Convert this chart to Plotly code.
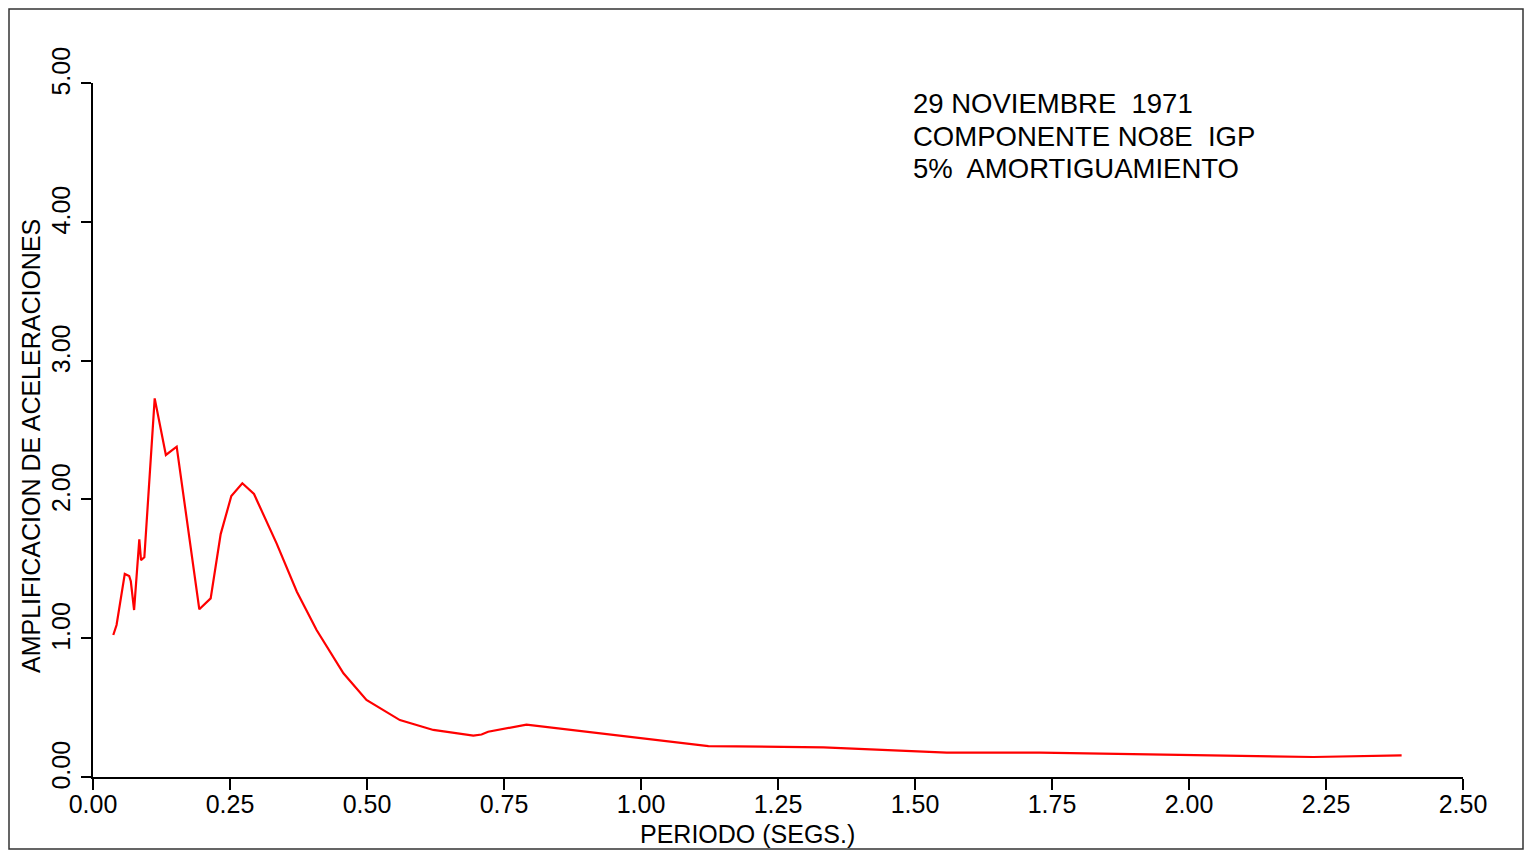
import plotly.graph_objects as go

periodo = [0.037, 0.043, 0.058, 0.066, 0.069, 0.075, 0.0845, 0.0876, 0.0937, 0.1126,
           0.133, 0.1527, 0.194, 0.2147, 0.233, 0.2524, 0.2725, 0.2938, 0.335, 0.372,
           0.408, 0.457, 0.499, 0.560, 0.621, 0.694, 0.709, 0.721, 0.791, 1.123,
           1.333, 1.558, 1.728, 2.227, 2.388]
amplificacion = [1.023, 1.095, 1.463, 1.448, 1.41, 1.203, 1.712, 1.563, 1.583, 2.728,
                 2.32, 2.38, 1.208, 1.287, 1.75, 2.024, 2.116, 2.039, 1.683, 1.335,
                 1.059, 0.747, 0.555, 0.41, 0.339, 0.298, 0.306, 0.326, 0.377, 0.223,
                 0.214, 0.175, 0.175, 0.144, 0.156]

x_ticks = [0.0, 0.25, 0.5, 0.75, 1.0, 1.25, 1.5, 1.75, 2.0, 2.25, 2.5]
y_ticks = [0.0, 1.0, 2.0, 3.0, 4.0, 5.0]

info_lines = ["29 NOVIEMBRE\u00a0 1971", "COMPONENTE NO8E\u00a0 IGP", "5%\u00a0 AMORTIGUAMIENTO"]

FONT = "Liberation Sans, Arial, sans-serif"

fig = go.Figure()
fig.add_trace(go.Scatter(x=periodo, y=amplificacion, mode="lines",
                         line=dict(color="#ff0000", width=2.2), showlegend=False,
                         hoverinfo="skip"))

W, H = 1526, 851
L, R, T, B = 93, 63, 83, 74
pw, ph = W - L - R, H - T - B

def px_x(px):
    return (px - L) / pw

def px_y(py):
    return (H - B - py) / ph

annotations = []
for i, line in enumerate(info_lines):
    annotations.append(dict(text=line, xref="paper", yref="paper",
                            x=px_x(911), y=px_y(104 + 32 * i),
                            xanchor="left", yanchor="middle", align="left",
                            showarrow=False,
                            font=dict(size=27.5, family=FONT, color="black")))
annotations += [
    dict(text="PERIODO (SEGS.)", xref="paper", yref="paper",
         x=px_x(747), y=px_y(834), xanchor="center", yanchor="middle",
         showarrow=False, font=dict(size=25, family=FONT, color="black")),
    dict(text="AMPLIFICACION DE ACELERACIONES", xref="paper", yref="paper",
         x=px_x(31), y=px_y(446), xanchor="center", yanchor="middle",
         textangle=-90, showarrow=False,
         font=dict(size=25, family=FONT, color="black")),
]

fig.update_layout(
    width=W, height=H,
    margin=dict(l=L, r=R, t=T, b=B),
    paper_bgcolor="white", plot_bgcolor="white",
    font=dict(family=FONT, size=25, color="black"),
    xaxis=dict(range=[0, 2.5], tickvals=x_ticks,
               ticktext=[f"{v:.2f}" for v in x_ticks],
               showgrid=False, zeroline=False, showline=True, linecolor="black",
               linewidth=1.5, ticks="outside", ticklen=11, tickwidth=1.5,
               tickcolor="black", ticklabelstandoff=-7,
               tickfont=dict(size=25, family=FONT)),
    yaxis=dict(range=[0, 5], tickvals=y_ticks,
               ticktext=[f"{v:.2f}" for v in y_ticks],
               showgrid=False, zeroline=False, showline=True, linecolor="black",
               linewidth=1.5, ticks="outside", ticklen=10, tickwidth=1.5,
               tickcolor="black", tickangle=-90, ticklabelstandoff=1,
               ticklabelshift=-8,
               tickfont=dict(size=25, family=FONT)),
    shapes=[dict(type="rect", xref="paper", yref="paper",
                 x0=px_x(9), x1=px_x(1523), y0=px_y(849), y1=px_y(9),
                 line=dict(color="#333333", width=1.5), fillcolor="rgba(0,0,0,0)")],
    annotations=annotations,
)

fig.write_html("out.html")
